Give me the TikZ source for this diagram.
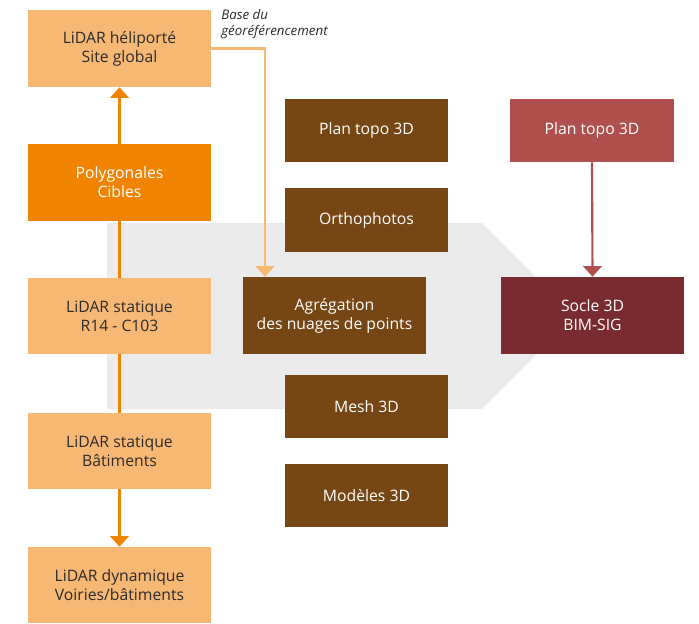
\documentclass[tikz,border=0pt]{standalone}
\usepackage{fontspec}
\setmainfont{Open Sans}
\usetikzlibrary{arrows.meta}
\definecolor{lightor}{HTML}{F7B874}
\definecolor{orange}{HTML}{F08300}
\definecolor{brown}{HTML}{764615}
\definecolor{rosered}{HTML}{B0504E}
\definecolor{darkred}{HTML}{7A2B2F}
\definecolor{chevron}{HTML}{EBEBEB}
\definecolor{ink}{HTML}{2B2B2B}
\pgfdeclarelayer{background}
\pgfsetlayers{background,main}
\tikzset{
  box/.style={inner sep=0pt, align=center, font=\fontsize{11.8}{14.3}\selectfont},
  srcbox/.style={box, fill=lightor, text=ink, minimum width=183*0.75pt, minimum height=76*0.75pt},
  keybox/.style={box, fill=orange, text=white, minimum width=183*0.75pt, minimum height=77*0.75pt},
  prodbox/.style={box, fill=brown, text=white, minimum width=163*0.75pt, minimum height=63*0.75pt},
  tip/.style={-{Triangle[length=8pt,width=14pt]}},
  flow/.style={line width=1.6pt}
}
\begin{document}
\begin{tikzpicture}[x=0.75pt,y=-0.75pt]
\useasboundingbox (0,0) rectangle (699,624);

% Survey sources (left column)
\node[srcbox, minimum height=77*0.75pt] (heli) at (119.5,48.5) {LiDAR héliporté\\Site global};
\node[keybox] (poly) at (119.5,182.5) {Polygonales\\Cibles};
\node[srcbox] (r14) at (119.5,316) {LiDAR statique\\R14 - C103};
\node[srcbox] (bat) at (119.5,451) {LiDAR statique\\Bâtiments};
\node[srcbox] (dyn) at (119.5,585) {LiDAR dynamique\\Voiries/bâtiments};

% Processing and products (middle column)
\node[prodbox] (plan1) at (366.5,130.5) {Plan topo 3D};
\node[prodbox, minimum height=64*0.75pt] (ortho) at (366.5,220) {Orthophotos};
\node[box, fill=brown, text=white, minimum width=183*0.75pt, minimum height=77*0.75pt] (agreg) at (334.5,315.5) {Agrégation\\des nuages de points};
\node[prodbox] (mesh) at (366.5,406.5) {Mesh 3D};
\node[prodbox] (modeles) at (366.5,495.5) {Modèles 3D};

% Final base (right column)
\node[box, fill=rosered, text=white, minimum width=164*0.75pt, minimum height=63*0.75pt] (plan2) at (592,130.5) {Plan topo 3D};
\node[box, fill=darkred, text=white, minimum width=183*0.75pt, minimum height=77*0.75pt] (socle) at (592.5,315.5) {Socle 3D\\BIM-SIG};

% Georeferencing note
\node[anchor=north west, inner sep=0pt, align=left, text=ink, font=\fontsize{10}{12}\itshape] (note) at (221,9) {Base du\\géoréférencement};

\coordinate (geoX) at (265,0);

\begin{pgfonlayer}{background}
  % big chevron behind the workflow
  \fill[chevron] (107,223) -- (482,223) -- (575,316) -- (482,409) -- (107,409) -- cycle;
  % main survey spine
  \draw[flow, orange, tip] (poly.south) -- (dyn.north);
\end{pgfonlayer}

\draw[flow, orange, tip] (poly.north) -- (heli.south);
\draw[flow, lightor, tip] (heli.east) -| (agreg.north -| geoX);
\draw[flow, rosered, tip] (plan2.south) -- (socle.north);
\end{tikzpicture}
\end{document}
